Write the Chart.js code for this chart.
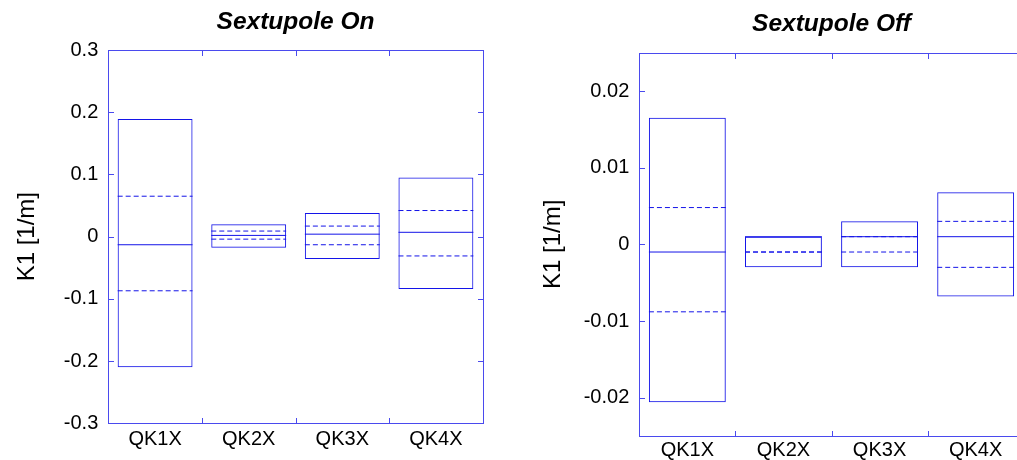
<!DOCTYPE html>
<html>
<head>
<meta charset="utf-8">
<script src="https://cdn.jsdelivr.net/npm/chart.js@4.4.1/dist/chart.umd.min.js"></script>
<style>
  html, body { margin: 0; padding: 0; background: #ffffff; }
  body { width: 1017px; height: 460px; overflow: hidden; position: relative; }
  .panel { position: absolute; top: 0; height: 460px; }
  #panelOn  { left: 0px;   width: 591px; }
  #panelOff { left: 520px; width: 623px; }
</style>
</head>
<body>
<div class="panel" id="panelOn"><canvas id="chartOn"></canvas></div>
<div class="panel" id="panelOff"><canvas id="chartOff"></canvas></div>
<script>
// Quadrupole names shared by both panels
const categories = ['QK1X', 'QK2X', 'QK3X', 'QK4X'];

// Sextupole on: box extent, median (solid) and inner band (dashed)
const onBoxHigh  = [0.189, 0.020, 0.038, 0.095];
const onBoxLow   = [-0.210, -0.018, -0.036, -0.084];
const onMedian   = [-0.013, 0.002, 0.004, 0.007];
const onDashHigh = [0.065, 0.009, 0.017, 0.042];
const onDashLow  = [-0.087, -0.004, -0.013, -0.031];
const onTicks      = [-0.3, -0.2, -0.1, 0, 0.1, 0.2, 0.3];
const onTickLabels = ['-0.3', '-0.2', '-0.1', '0', '0.1', '0.2', '0.3'];

// Sextupole off
const offBoxHigh  = [0.0165, 0.001, 0.003, 0.0068];
const offBoxLow   = [-0.0206, -0.003, -0.003, -0.0068];
const offMedian   = [-0.001, 0.001, 0.001, 0.001];
const offDashHigh = [0.0048, -0.001, 0.001, 0.003];
const offDashLow  = [-0.0088, -0.001, -0.001, -0.003];
const offTicks      = [-0.02, -0.01, 0, 0.01, 0.02];
const offTickLabels = ['-0.02', '-0.01', '0', '0.01', '0.02'];

const BOX_COLOR = '#1414e8';
const FRAME_COLOR = '#4a4aee';
const FONT = '"Liberation Sans", Arial, Helvetica, sans-serif';

// Draws median / band segments across each box, then the closed frame with inward ticks
const boxDecor = {
  id: 'boxDecor',
  afterDatasetsDraw(chart, args, opts) {
    const ctx = chart.ctx;
    const y = chart.scales.y;
    const bars = chart.getDatasetMeta(0).data;
    ctx.save();
    ctx.fillStyle = BOX_COLOR;
    const seg = (bar, v, dashed) => {
      if (v === null || v === undefined) return;
      const py = y.getPixelForValue(v) - 0.5;
      const x0 = bar.x - bar.width / 2;
      const x1 = bar.x + bar.width / 2;
      if (!dashed) {
        ctx.fillRect(x0, py, x1 - x0, 1);
        return;
      }
      for (let px = x0; px < x1 - 2; px += 8) {
        ctx.fillRect(px, py, Math.min(5, x1 - px), 1);
      }
    };
    bars.forEach((bar, i) => {
      seg(bar, opts.median[i], false);
      seg(bar, opts.dashHigh[i], true);
      seg(bar, opts.dashLow[i], true);
    });
    ctx.restore();
  },
  afterDraw(chart) {
    const ctx = chart.ctx;
    const a = chart.chartArea;
    const x = chart.scales.x;
    const y = chart.scales.y;
    const L = Math.round(a.left), R = Math.round(a.right);
    const T = Math.round(a.top), B = Math.round(a.bottom);
    const tick = 6;
    ctx.save();
    ctx.fillStyle = FRAME_COLOR;
    ctx.fillRect(L, T, R - L + 1, 1);
    ctx.fillRect(L, B, R - L + 1, 1);
    ctx.fillRect(L, T, 1, B - T + 1);
    ctx.fillRect(R, T, 1, B - T + 1);
    // y ticks on left and right edges
    y.ticks.forEach(t => {
      const py = Math.round(y.getPixelForValue(t.value));
      ctx.fillRect(L, py, tick, 1);
      ctx.fillRect(R - tick + 1, py, tick, 1);
    });
    // x ticks between categories on bottom and top edges
    for (let i = 1; i < x.ticks.length; i++) {
      const px = Math.round((x.getPixelForValue(i - 1) + x.getPixelForValue(i)) / 2);
      ctx.fillRect(px, B - tick + 1, 1, tick);
      ctx.fillRect(px, T, 1, tick);
    }
    ctx.restore();
  }
};

function makeChart(id, cfg) {
  return new Chart(document.getElementById(id), {
    type: 'bar',
    data: {
      labels: categories,
      datasets: [{
        data: cfg.low.map((lo, i) => [lo, cfg.high[i]]),
        backgroundColor: 'rgba(0,0,0,0)',
        borderColor: BOX_COLOR,
        borderWidth: 1,
        borderSkipped: false,
        barPercentage: 0.8,
        categoryPercentage: 1.0
      }]
    },
    options: {
      responsive: true,
      maintainAspectRatio: false,
      animation: false,
      events: [],
      layout: { padding: 0 },
      plugins: {
        legend: { display: false },
        tooltip: { enabled: false },
        title: {
          display: true,
          text: cfg.title,
          color: '#000000',
          font: { family: FONT, size: 24.5, weight: 'bold', style: 'italic' },
          padding: { top: cfg.titleTop, bottom: cfg.titleBottom }
        },
        boxDecor: { median: cfg.median, dashHigh: cfg.dashHigh, dashLow: cfg.dashLow }
      },
      scales: {
        x: {
          type: 'category',
          offset: true,
          grid: { display: false, drawTicks: false },
          border: { display: false },
          ticks: { color: '#000000', font: { family: FONT, size: 20 }, padding: cfg.xPad, maxRotation: 0 },
          afterFit(s) { s.height = cfg.xHeight; }
        },
        y: {
          type: 'linear',
          min: cfg.min,
          max: cfg.max,
          grid: { display: false, drawTicks: false },
          border: { display: false },
          afterBuildTicks(s) { s.ticks = cfg.ticks.map(v => ({ value: v })); },
          ticks: {
            color: '#000000',
            font: { family: FONT, size: 20 },
            padding: 10,
            callback: (v, i) => cfg.tickLabels[i]
          },
          title: {
            display: true,
            text: 'K1 [1/m]',
            color: '#000000',
            font: { family: FONT, size: 24 },
            padding: { top: cfg.yTitlePad, bottom: 0 }
          },
          afterFit(s) { s.width = cfg.yWidth; }
        },
        // empty right-hand axis keeps the plot centred under its title
        yRight: {
          type: 'linear',
          position: 'right',
          grid: { display: false, drawTicks: false },
          border: { display: false },
          ticks: { display: false },
          afterFit(s) { s.width = cfg.yWidth; }
        }
      }
    },
    plugins: [boxDecor]
  });
}

makeChart('chartOn', {
  title: 'Sextupole On',
  low: onBoxLow, high: onBoxHigh, median: onMedian, dashHigh: onDashHigh, dashLow: onDashLow,
  min: -0.3, max: 0.3, ticks: onTicks, tickLabels: onTickLabels,
  titleTop: 8, titleBottom: 12.6, xHeight: 36.7, xPad: 4,
  yWidth: 108.3, yTitlePad: 12.6
});

makeChart('chartOff', {
  title: 'Sextupole Off',
  low: offBoxLow, high: offBoxHigh, median: offMedian, dashHigh: offDashHigh, dashLow: offDashLow,
  min: -0.025, max: 0.025, ticks: offTicks, tickLabels: offTickLabels,
  titleTop: 9.8, titleBottom: 13.5, xHeight: 24, xPad: 2,
  yWidth: 119.3, yTitlePad: 19
});
</script>
</body>
</html>
